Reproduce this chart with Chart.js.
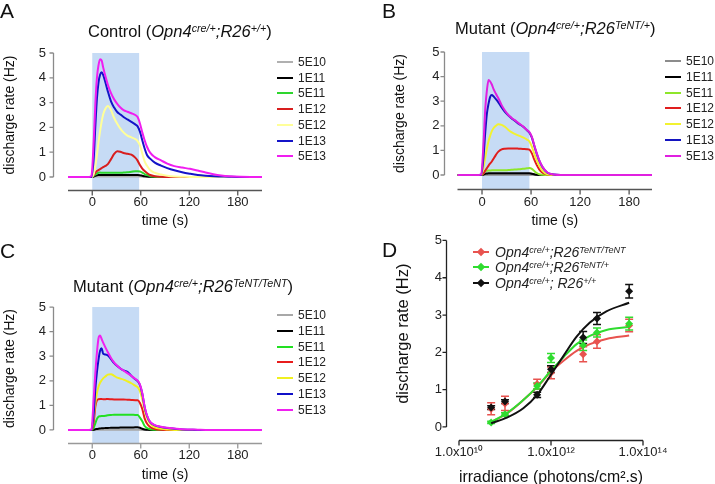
<!DOCTYPE html>
<html>
<head>
<meta charset="utf-8">
<script src="https://cdn.jsdelivr.net/npm/chart.js@4.4.1/dist/chart.umd.min.js"></script>
<style>
html,body{margin:0;padding:0;background:#fff;}
body{width:715px;height:484px;position:relative;overflow:hidden;font-family:Arial,"Liberation Sans",sans-serif;color:#111;}
canvas{position:absolute;}
.lbl{position:absolute;font-size:21px;line-height:1;}
.ttl{position:absolute;font-size:16.5px;line-height:1;white-space:nowrap;}
.sp{position:relative;top:-0.45em;font-size:0.65em;line-height:0;}
.row{position:absolute;white-space:nowrap;font-size:12px;line-height:1;color:#222;}
.row .ln{position:absolute;left:0;top:5px;width:16px;height:2px;}
.row .tx{position:absolute;left:21px;top:0;}
.drow{position:absolute;white-space:nowrap;font-size:14px;line-height:1;font-style:italic;color:#222;}
.drow .ln{position:absolute;left:0;top:6px;width:16px;height:2px;}
.drow .mk{position:absolute;left:5px;top:4px;width:6px;height:6px;transform:rotate(45deg);}
.drow .tx{position:absolute;left:22px;top:0;}
</style>
</head>
<body>
<canvas id="cA" width="360" height="240" style="left:0;top:0"></canvas>
<canvas id="cB" width="355" height="240" style="left:360px;top:0"></canvas>
<canvas id="cC" width="360" height="244" style="left:0;top:240px"></canvas>
<canvas id="cD" width="355" height="287" style="left:360px;top:200px"></canvas>

<div class="lbl" style="left:0;top:0">A</div>
<div class="lbl" style="left:382px;top:0">B</div>
<div class="lbl" style="left:0;top:240px">C</div>
<div class="lbl" style="left:382px;top:239px">D</div>

<div class="ttl" style="left:88px;top:23px">Control (<i>Opn4<span class="sp">cre/+</span>;R26<span class="sp">+/+</span></i>)</div>
<div class="ttl" style="left:455px;top:20px">Mutant (<i>Opn4<span class="sp">cre/+</span>;R26<span class="sp">TeNT/+</span></i>)</div>
<div class="ttl" style="left:73px;top:278px">Mutant (<i>Opn4<span class="sp">cre/+</span>;R26<span class="sp">TeNT/TeNT</span></i>)</div>

<div id="legs"></div>

<script>
const doses = ['5E10', '1E11', '5E11', '1E12', '5E12', '1E13', '5E13'];
const timeTicks = [0, 60, 120, 180];
const rateTicks = [0, 1, 2, 3, 4, 5];
const stim = [0, 58];

// panel A / C time base (s)
const tA = [-30, -3.9, -1, 1.9, 3.9, 5.8, 7.7, 9.7, 11.6, 13.5, 16.4, 19.3, 23.2, 27.1, 30.9, 34.8, 38.7, 43.5, 48.4, 53.2, 56.1, 59, 61.9, 64.8, 67.7, 71.6, 77.4, 85.1, 92.8, 101.5, 111.2, 120.9, 130.5, 140.2, 149.9, 159.6, 169.2, 183.7, 210];
const a5E10 = [0,0,0,0.01,0.02,0.02,0.02,0.02,0.02,0.02,0.02,0.02,0.02,0.02,0.02,0.02,0.02,0.02,0.02,0.02,0.02,0.02,0.01,0.01,0,0,0,0,0,0,0,0,0,0,0,0,0,0,0];
const a1E11 = [0,0,0,0.02,0.05,0.07,0.08,0.08,0.08,0.08,0.08,0.08,0.08,0.08,0.08,0.08,0.08,0.08,0.08,0.08,0.08,0.07,0.05,0.03,0.02,0.01,0,0,0,0,0,0,0,0,0,0,0,0,0];
const a5E11 = [0,0,0,0.05,0.1,0.14,0.17,0.18,0.17,0.17,0.17,0.17,0.17,0.17,0.17,0.17,0.18,0.19,0.21,0.23,0.23,0.22,0.18,0.12,0.08,0.04,0.01,0,0,0,0,0,0,0,0,0,0,0,0];
const a1E12 = [0,0,0,0.08,0.18,0.24,0.28,0.32,0.36,0.4,0.45,0.52,0.72,0.93,1.04,1.02,0.97,0.94,0.9,0.78,0.66,0.48,0.34,0.24,0.16,0.08,0.03,0.01,0,0,0,0,0,0,0,0,0,0,0];
const a5E12 = [0,0,0,0.12,0.45,0.89,1.4,1.85,2.23,2.52,2.76,2.86,2.7,2.38,2.15,1.95,1.8,1.67,1.6,1.53,1.45,1.28,0.95,0.63,0.45,0.28,0.17,0.1,0.05,0.02,0.01,0,0,0,0,0,0,0,0];
const a1E13 = [0,0,0,0.8,2.1,3.17,3.8,4.12,4.22,4.12,3.8,3.45,3.05,2.8,2.62,2.52,2.42,2.32,2.22,2.12,2.04,1.83,1.48,1.15,0.89,0.74,0.58,0.46,0.36,0.27,0.19,0.13,0.08,0.05,0.03,0.02,0.01,0,0];
const a5E13 = [0,0,0.05,1.5,3.0,4.0,4.5,4.75,4.7,4.42,4.05,3.72,3.38,3.13,2.95,2.8,2.7,2.63,2.57,2.5,2.42,2.16,1.8,1.48,1.22,0.98,0.8,0.67,0.54,0.44,0.38,0.33,0.26,0.18,0.11,0.06,0.03,0.01,0];

// panel B
const tB = [-30, -4, -1, 2, 4, 6, 8, 10, 12, 14, 17, 20, 24, 28, 32, 36, 40, 45, 50, 55, 58, 61, 64, 67, 70, 74, 80, 88, 96, 110, 130, 160, 208];
const b5E10 = [0,0,0,0.01,0.01,0.01,0.01,0.01,0.01,0.01,0.01,0.01,0.01,0.01,0.01,0.01,0.01,0.01,0.01,0.01,0.01,0.01,0,0,0,0,0,0,0,0,0,0,0];
const b1E11 = [0,0,0,0.02,0.05,0.06,0.07,0.07,0.07,0.07,0.07,0.07,0.07,0.07,0.07,0.07,0.07,0.07,0.07,0.07,0.07,0.05,0.03,0.01,0,0,0,0,0,0,0,0,0];
const b5E11 = [0,0,0,0.08,0.15,0.17,0.18,0.18,0.19,0.19,0.19,0.19,0.19,0.19,0.2,0.21,0.22,0.23,0.25,0.27,0.28,0.25,0.16,0.08,0.03,0.01,0,0,0,0,0,0,0];
const b1E12 = [0,0,0,0.08,0.18,0.28,0.38,0.47,0.55,0.66,0.82,0.95,1.04,1.07,1.08,1.08,1.08,1.07,1.06,1.05,1.03,0.88,0.62,0.4,0.23,0.09,0.02,0,0,0,0,0,0];
const b5E12 = [0,0,0,0.35,0.72,1.08,1.38,1.6,1.78,1.9,2.0,2.06,2.04,1.96,1.84,1.74,1.67,1.6,1.53,1.44,1.36,1.15,0.86,0.6,0.38,0.17,0.03,0,0,0,0,0,0];
const b1E13 = [0,0,0,0.8,1.75,2.5,2.9,3.18,3.25,3.2,3.08,2.95,2.75,2.57,2.43,2.31,2.21,2.08,1.97,1.82,1.72,1.52,1.18,0.86,0.58,0.32,0.09,0.02,0,0,0,0,0];
const b5E13 = [0,0,0.03,1.4,2.7,3.45,3.86,3.8,3.68,3.5,3.3,3.12,2.84,2.62,2.45,2.33,2.23,2.1,1.98,1.83,1.74,1.55,1.2,0.88,0.6,0.33,0.1,0.02,0,0,0,0,0];

// panel C (same time base as A)
const c5E10 = [0,0,0,0.01,0.01,0.01,0.01,0.01,0.01,0.01,0.01,0.01,0.01,0.01,0.01,0.01,0.01,0.01,0.01,0.01,0.01,0.01,0,0,0,0,0,0,0,0,0,0,0,0,0,0,0,0,0];
const c1E11 = [0,0,0,0.01,0.03,0.04,0.05,0.06,0.07,0.07,0.08,0.08,0.09,0.09,0.09,0.1,0.1,0.1,0.1,0.11,0.11,0.09,0.05,0.02,0.01,0,0,0,0,0,0,0,0,0,0,0,0,0,0];
const c5E11 = [0,0,0,0.1,0.28,0.45,0.54,0.56,0.57,0.57,0.58,0.6,0.61,0.62,0.62,0.62,0.62,0.62,0.62,0.61,0.61,0.5,0.35,0.16,0.08,0.03,0.01,0,0,0,0,0,0,0,0,0,0,0,0];
const c1E12 = [0,0,0,0.35,0.97,1.2,1.25,1.26,1.26,1.25,1.25,1.26,1.25,1.24,1.24,1.24,1.24,1.23,1.22,1.21,1.21,1.1,0.85,0.47,0.26,0.12,0.04,0.01,0,0,0,0,0,0,0,0,0,0,0];
const c5E12 = [0,0,0,0.6,1.12,1.5,1.76,1.92,2.02,2.1,2.18,2.25,2.27,2.2,2.13,2.09,2.05,1.98,1.9,1.8,1.74,1.58,1.25,0.81,0.5,0.26,0.11,0.05,0.02,0,0,0,0,0,0,0,0,0,0];
const c1E13 = [0,0,0,0.7,1.7,2.35,2.85,3.22,3.32,3.1,3.07,3.03,2.88,2.72,2.6,2.5,2.42,2.36,2.2,2.06,1.99,1.83,1.47,0.93,0.58,0.32,0.19,0.12,0.08,0.05,0.02,0.01,0,0,0,0,0,0,0];
const c5E13 = [0,0,0.03,1.35,2.35,3.15,3.72,3.84,3.7,3.55,3.35,3.16,2.93,2.74,2.61,2.5,2.42,2.31,2.2,2.08,2.01,1.85,1.5,0.95,0.6,0.33,0.2,0.13,0.09,0.06,0.03,0.02,0.01,0,0,0,0,0,0];

// panel D: irradiance response
const irr = [5e10, 1e11, 5e11, 1e12, 5e12, 1e13, 5e13];
const dRed = [0.49, 0.63, 1.15, 1.45, 1.95, 2.29, 2.72];
const dRedErr = [0.16, 0.19, 0.13, 0.16, 0.2, 0.18, 0.17];
const dGreen = [0.12, 0.34, 1.1, 1.85, 2.19, 2.53, 2.77];
const dGreenErr = [0.03, 0.04, 0.08, 0.12, 0.14, 0.12, 0.17];
const dBlack = [0.52, 0.68, 0.86, 1.55, 2.4, 2.91, 3.64];
const dBlackErr = [0.05, 0.05, 0.07, 0.09, 0.16, 0.16, 0.18];
const fitIrr = [5e10, 1.1e11, 2.5e11, 5e11, 9.5e11, 1.9e12, 3.6e12, 7e12, 1.6e13, 5e13];
const fitRed = [0.13, 0.36, 0.72, 1.07, 1.45, 1.78, 2.04, 2.22, 2.36, 2.45];
const fitGreen = [0.13, 0.37, 0.72, 1.08, 1.48, 1.88, 2.22, 2.44, 2.6, 2.68];
const fitBlack = [0.1, 0.25, 0.5, 0.86, 1.36, 1.92, 2.42, 2.8, 3.1, 3.33];
const irrTicks = [1e10, 1e12, 1e14];
const irrLabels = ['1.0x10\u00b9\u2070', '1.0x10\u00b9\u00b2', '1.0x10\u00b9\u2074'];

const colA = ['#b0b0b0', '#000000', '#2ed62e', '#d81e1e', '#ffff99', '#1414c8', '#f01ef0'];
const colB = ['#8c8c8c', '#000000', '#8ee62a', '#e01e1e', '#f2f230', '#1414c0', '#e020e0'];
const colC = ['#a8a8a8', '#000000', '#22e022', '#e81c1c', '#f0f020', '#1010c8', '#f020f0'];
const colD = ['#e8534f', '#2fdc2f', '#111111'];

const FONT = 'Arial, "Liberation Sans", sans-serif';

// GraphPad style detached axes + stimulus box
const gpAxes = {
  id: 'gpAxes',
  beforeDatasetsDraw(chart, args, o) {
    if (!o.stim) return;
    const {ctx, chartArea: a, scales: {x, y}} = chart;
    const x0 = x.getPixelForValue(o.stim[0]), x1 = x.getPixelForValue(o.stim[1]);
    const y0 = y.getPixelForValue(5);
    ctx.save();
    ctx.fillStyle = '#c6dbf5';
    ctx.fillRect(x0, y0, x1 - x0, a.bottom - y0);
    ctx.restore();
  },
  afterDraw(chart, args, o) {
    const {ctx, chartArea: a, scales: {x, y}} = chart;
    ctx.save();
    ctx.lineWidth = 1.3;
    const ax = Math.round(a.left - o.yGap) + 0.5;
    const yp = y.ticks.map(t => y.getPixelForValue(t.value));
    ctx.strokeStyle = o.yColor;
    ctx.beginPath();
    ctx.moveTo(ax, Math.min(...yp)); ctx.lineTo(ax, Math.max(...yp));
    yp.forEach(p => { ctx.moveTo(ax - 4, p); ctx.lineTo(ax, p); });
    ctx.stroke();
    const by = Math.round(a.bottom) + 0.5;
    ctx.strokeStyle = o.xColor;
    ctx.beginPath();
    ctx.moveTo(a.left, by); ctx.lineTo(a.right, by);
    x.ticks.forEach(t => { const p = x.getPixelForValue(t.value); ctx.moveTo(p, by); ctx.lineTo(p, by + 5); });
    ctx.stroke();
    ctx.restore();
  }
};

const errBars = {
  id: 'errBars',
  beforeDatasetsDraw(chart) {
    const {ctx, scales: {x, y}} = chart;
    chart.data.datasets.forEach(ds => {
      if (!ds.err) return;
      ctx.save();
      ctx.strokeStyle = ds.borderColor; ctx.lineWidth = 1.5;
      ds.data.forEach((p, i) => {
        const px = x.getPixelForValue(p.x);
        const t = y.getPixelForValue(p.y + ds.err[i]), b = y.getPixelForValue(p.y - ds.err[i]);
        ctx.beginPath();
        ctx.moveTo(px, t); ctx.lineTo(px, b);
        ctx.moveTo(px - 4, t); ctx.lineTo(px + 4, t);
        ctx.moveTo(px - 4, b); ctx.lineTo(px + 4, b);
        ctx.stroke();
      });
      ctx.restore();
    });
  }
};

function traceChart(id, t, series, colors, o) {
  return new Chart(document.getElementById(id), {
    type: 'scatter',
    data: {
      datasets: series.map((s, i) => ({
        label: doses[i],
        data: t.map((x, j) => ({x, y: s[j]})),
        showLine: true, borderColor: colors[i], borderWidth: 2, pointRadius: 0,
        cubicInterpolationMode: 'monotone', order: 6 - i
      }))
    },
    options: {
      responsive: false, animation: false, events: [],
      layout: {padding: o.pad},
      plugins: {legend: {display: false}, tooltip: {enabled: false},
        gpAxes: {stim: stim, yGap: o.yGap, yColor: '#8a8a8a', xColor: o.xColor}},
      scales: {
        x: {type: 'linear', min: -30, max: o.xMax,
          grid: {display: false, drawTicks: false}, border: {display: false},
          afterBuildTicks: s => { s.ticks = timeTicks.map(v => ({value: v})); },
          ticks: {font: {family: FONT, size: 13}, color: '#222', padding: o.xPad},
          title: {display: true, text: 'time (s)', font: {family: FONT, size: 14}, color: '#111', padding: 0},
          afterFit: s => { s.height = o.xH; }},
        y: {min: o.yMin, max: 5 - o.yMin,
          grid: {display: false, drawTicks: false}, border: {display: false},
          afterBuildTicks: s => { s.ticks = rateTicks.map(v => ({value: v})); },
          ticks: {font: {family: FONT, size: 13}, color: '#222', padding: o.yPad},
          title: {display: true, text: 'discharge rate (Hz)', font: {family: FONT, size: 14}, color: '#111', padding: {top: 1.5, bottom: 0}},
          afterFit: s => { s.width = o.yW; }}
      }
    },
    plugins: [gpAxes]
  });
}

traceChart('cA', tA, [a5E10, a1E11, a5E11, a1E12, a5E12, a1E13, a5E13], colA,
  {pad: {left: 0, top: 40.1, right: 98, bottom: 10.6}, yW: 68, xH: 39.5, yMin: -0.52, xMax: 210, yGap: 15, xPad: 5, yPad: 22, xColor: '#555'});
traceChart('cB', tB, [b5E10, b1E11, b5E11, b1E12, b5E12, b1E13, b5E13], colB,
  {pad: {left: 30, top: 38, right: 63, bottom: 10.6}, yW: 67.5, xH: 40.4, yMin: -0.57, xMax: 208, yGap: 14, xPad: 6, yPad: 18, xColor: '#555'});
traceChart('cC', tA, [c5E10, c1E11, c5E11, c1E12, c5E12, c1E13, c5E13], colC,
  {pad: {left: 0, top: 54, right: 98, bottom: 0.6}, yW: 68, xH: 40.4, yMin: -0.53, xMax: 210, yGap: 15, xPad: 5, yPad: 22, xColor: '#999'});

const pts = (xs, ys) => xs.map((x, i) => ({x, y: ys[i]}));
const fitDs = (ys, c, ord) => ({data: pts(fitIrr, ys), showLine: true, borderColor: c, borderWidth: 2, pointRadius: 0, cubicInterpolationMode: 'monotone', order: ord});
const ptDs = (ys, err, c, ord) => ({data: pts(irr, ys), err, showLine: false, borderColor: c, backgroundColor: c, pointStyle: 'rectRot', pointRadius: 4, pointBorderWidth: 0, order: ord});

new Chart(document.getElementById('cD'), {
  type: 'scatter',
  data: {datasets: [
    fitDs(fitRed, colD[0], 6), ptDs(dRed, dRedErr, colD[0], 5),
    fitDs(fitGreen, colD[1], 4), ptDs(dGreen, dGreenErr, colD[1], 3),
    fitDs(fitBlack, colD[2], 2), ptDs(dBlack, dBlackErr, colD[2], 1)
  ]},
  options: {
    responsive: false, animation: false, events: [],
    layout: {padding: {left: 34, top: 27.4, right: 72, bottom: 0}},
    plugins: {legend: {display: false}, tooltip: {enabled: false},
      gpAxes: {stim: null, yGap: 13, yColor: '#222', xColor: '#222'}},
    scales: {
      x: {type: 'logarithmic', min: 1e10, max: 1e14,
        grid: {display: false, drawTicks: false}, border: {display: false},
        afterBuildTicks: s => { s.ticks = irrTicks.map(v => ({value: v})); },
        ticks: {font: {family: FONT, size: 13}, color: '#222', padding: 5, maxRotation: 0,
          callback: v => irrLabels[irrTicks.indexOf(v)]},
        title: {display: true, text: 'irradiance (photons/cm\u00b2.s)', font: {family: FONT, size: 16.5}, color: '#111', padding: 0},
        afterFit: s => { s.height = 47; }},
      y: {min: -0.35, max: 5.35,
        grid: {display: false, drawTicks: false}, border: {display: false},
        afterBuildTicks: s => { s.ticks = rateTicks.map(v => ({value: v})); },
        ticks: {font: {family: FONT, size: 13}, color: '#222', padding: 17},
        title: {display: true, text: 'discharge rate (Hz)', font: {family: FONT, size: 16.5}, color: '#111', padding: {top: 0, bottom: 0}},
        afterFit: s => { s.width = 65; }}
    }
  },
  plugins: [errBars, gpAxes]
});

// legends
const legs = document.getElementById('legs');
function traceLegend(x, y, step, colors) {
  doses.forEach((d, i) => {
    const r = document.createElement('div');
    r.className = 'row';
    r.style.left = x + 'px'; r.style.top = (y + i * step - 6) + 'px';
    r.innerHTML = `<span class="ln" style="background:${colors[i]}"></span><span class="tx">${d}</span>`;
    legs.appendChild(r);
  });
}
traceLegend(277, 62, 15.7, colA);
traceLegend(665, 61, 15.8, colB);
traceLegend(277, 315, 15.8, colC);

const dNames = [
  'Opn4<span class="sp">cre/+</span>;R26<span class="sp">TeNT/TeNT</span>',
  'Opn4<span class="sp">cre/+</span>;R26<span class="sp">TeNT/+</span>',
  'Opn4<span class="sp">cre/+</span>; R26<span class="sp">+/+</span>'
];
[252, 267, 283].forEach((y, i) => {
  const r = document.createElement('div');
  r.className = 'drow';
  r.style.left = '473px'; r.style.top = (y - 7) + 'px';
  r.innerHTML = `<span class="ln" style="background:${colD[i]}"></span><span class="mk" style="background:${colD[i]}"></span><span class="tx">${dNames[i]}</span>`;
  legs.appendChild(r);
});
</script>
</body>
</html>
